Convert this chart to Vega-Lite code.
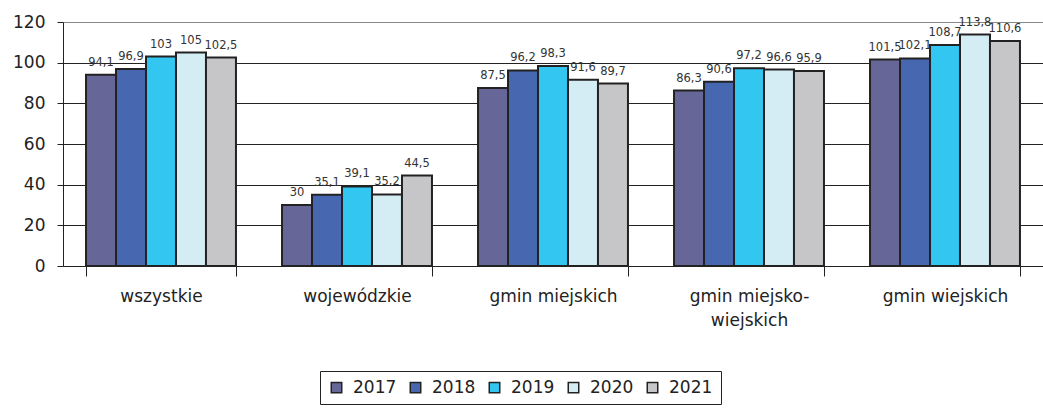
{
  "$schema": "https://vega.github.io/schema/vega-lite/v6.json",
  "autosize": {"type": "none"},
  "width": 980,
  "height": 244,
  "padding": {"left": 63, "top": 22, "right": 0, "bottom": 142},
  "background": "white",
  "config": {
    "font": "DejaVu Sans",
    "view": {"stroke": null},
    "locale": {"number": {"decimal": ",", "thousands": " ", "grouping": [3], "currency": ["", " zł"]}}
  },
  "data": {
    "values": [
      {"kategoria": "wszystkie", "rok": "2017", "wartosc": 94.1},
      {"kategoria": "wszystkie", "rok": "2018", "wartosc": 96.9},
      {"kategoria": "wszystkie", "rok": "2019", "wartosc": 103},
      {"kategoria": "wszystkie", "rok": "2020", "wartosc": 105},
      {"kategoria": "wszystkie", "rok": "2021", "wartosc": 102.5},
      {"kategoria": "wojewódzkie", "rok": "2017", "wartosc": 30},
      {"kategoria": "wojewódzkie", "rok": "2018", "wartosc": 35.1},
      {"kategoria": "wojewódzkie", "rok": "2019", "wartosc": 39.1},
      {"kategoria": "wojewódzkie", "rok": "2020", "wartosc": 35.2},
      {"kategoria": "wojewódzkie", "rok": "2021", "wartosc": 44.5},
      {"kategoria": "gmin miejskich", "rok": "2017", "wartosc": 87.5},
      {"kategoria": "gmin miejskich", "rok": "2018", "wartosc": 96.2},
      {"kategoria": "gmin miejskich", "rok": "2019", "wartosc": 98.3},
      {"kategoria": "gmin miejskich", "rok": "2020", "wartosc": 91.6},
      {"kategoria": "gmin miejskich", "rok": "2021", "wartosc": 89.7},
      {"kategoria": "gmin miejsko-wiejskich", "rok": "2017", "wartosc": 86.3},
      {"kategoria": "gmin miejsko-wiejskich", "rok": "2018", "wartosc": 90.6},
      {"kategoria": "gmin miejsko-wiejskich", "rok": "2019", "wartosc": 97.2},
      {"kategoria": "gmin miejsko-wiejskich", "rok": "2020", "wartosc": 96.6},
      {"kategoria": "gmin miejsko-wiejskich", "rok": "2021", "wartosc": 95.9},
      {"kategoria": "gmin wiejskich", "rok": "2017", "wartosc": 101.5},
      {"kategoria": "gmin wiejskich", "rok": "2018", "wartosc": 102.1},
      {"kategoria": "gmin wiejskich", "rok": "2019", "wartosc": 108.7},
      {"kategoria": "gmin wiejskich", "rok": "2020", "wartosc": 113.8},
      {"kategoria": "gmin wiejskich", "rok": "2021", "wartosc": 110.6}
    ]
  },
  "encoding": {
    "x": {
      "field": "kategoria",
      "type": "nominal",
      "sort": null,
      "scale": {"paddingInner": 0.235, "paddingOuter": 0.1175},
      "axis": {
        "title": null,
        "labelAngle": 0,
        "tickBand": "extent",
        "tickSize": 10,
        "tickColor": "#222",
        "domainColor": "#222",
        "labelFontSize": 17,
        "labelColor": "#222",
        "labelPadding": 12,
        "labelLineHeight": 24,
        "labelExpr": "datum.value == 'gmin miejsko-wiejskich' ? ['gmin miejsko-', 'wiejskich'] : datum.value"
      }
    },
    "xOffset": {"field": "rok", "type": "nominal"},
    "y": {
      "field": "wartosc",
      "type": "quantitative",
      "scale": {"domain": [0, 120], "nice": false},
      "axis": {
        "title": null,
        "values": [0, 20, 40, 60, 80, 100, 120],
        "tickSize": 6,
        "tickColor": "#222",
        "domainColor": "#222",
        "labelFontSize": 17,
        "labelColor": "#222",
        "labelPadding": 12,
        "grid": true,
        "gridColor": {"condition": {"test": "datum.value == 120", "value": "#888888"}, "value": "#222222"},
        "gridOpacity": 1
      }
    }
  },
  "layer": [
    {
      "mark": {"type": "bar", "stroke": "#222", "strokeWidth": 2},
      "encoding": {
        "color": {
          "field": "rok",
          "type": "nominal",
          "scale": {
            "domain": ["2017", "2018", "2019", "2020", "2021"],
            "range": ["#666699", "#4767B1", "#33C6F0", "#D4ECF4", "#C6C6C8"]
          },
          "legend": {
            "title": null,
            "orient": "none",
            "direction": "horizontal",
            "legendX": 257,
            "legendY": 349,
            "strokeColor": "#222",
            "padding": 8,
            "symbolType": "square",
            "symbolSize": 110,
            "symbolStrokeColor": "#222",
            "symbolStrokeWidth": 1.5,
            "symbolOpacity": 1,
            "labelFontSize": 17,
            "labelColor": "#222",
            "labelOffset": 8,
            "columnPadding": 10
          }
        }
      }
    },
    {
      "mark": {"type": "text", "baseline": "bottom", "dy": -7, "fontSize": 11.5, "color": "#333"},
      "encoding": {
        "text": {"field": "wartosc", "type": "quantitative", "format": ".1~f"}
      }
    }
  ]
}
